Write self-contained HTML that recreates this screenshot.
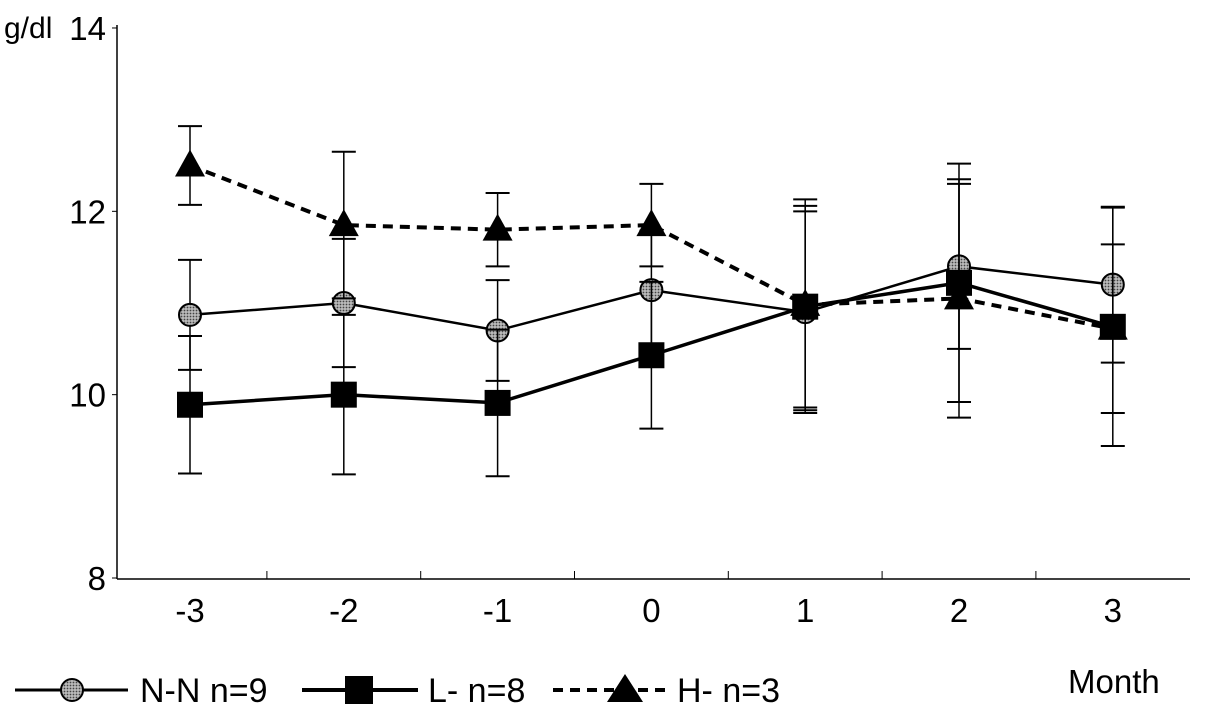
<!DOCTYPE html>
<html><head><meta charset="utf-8"><style>
body{margin:0;background:#fff;}
svg{display:block;font-family:"Liberation Sans",sans-serif;}
</style></head><body>
<svg id="chart" width="1205" height="725">
<defs>
<pattern id="dots" width="3" height="3" patternUnits="userSpaceOnUse"><rect width="3" height="3" fill="#bbb"/><circle cx="1.5" cy="1.5" r="0.9" fill="#444"/></pattern>
</defs>
<g id="axes"></g>
<g id="marks"></g>
<g id="legend">
<line x1="15" y1="690" x2="128" y2="690" stroke="#000" stroke-width="3"/>
<circle cx="72" cy="690" r="11" fill="url(#dots)" stroke="#000" stroke-width="2"/>
<text x="140" y="702" font-size="34">N-N n=9</text>
<line x1="302" y1="690" x2="418" y2="690" stroke="#000" stroke-width="4"/>
<rect x="345" y="676" width="28" height="28" fill="#000"/>
<text x="428" y="702" font-size="34">L- n=8</text>
<line x1="553" y1="690" x2="665" y2="690" stroke="#000" stroke-width="4" stroke-dasharray="10,7"/>
<polygon points="625,674 643,702 607,702" fill="#000"/>
<text x="677" y="702" font-size="34">H- n=3</text>
<text x="1068" y="693" font-size="33">Month</text>
<text x="4" y="38" font-size="30">g/dl</text>
</g>
</svg>
<script>
const months = [-3,-2,-1,0,1,2,3];
const yTicks = [8,10,12,14];
const nnMean = [10.87,11.0,10.7,11.14,10.9,11.4,11.2];
const nnSD = [0.6,0.7,0.55,0.65,1.1,0.9,0.85];
const lMean = [9.89,10.0,9.91,10.43,10.96,11.22,10.74];
const lSD = [0.75,0.87,0.8,0.8,1.1,1.3,1.3];
const hMean = [12.5,11.85,11.8,11.85,10.98,11.05,10.72];
const hSD = [0.43,0.8,0.4,0.45,1.15,1.3,0.92];

const NS="http://www.w3.org/2000/svg";
const X = m => 190 + (m+3)*153.8;
const Y = v => 578 - (v-8)*91.67;
function mk(tag, attrs, parent){const e=document.createElementNS(NS,tag);for(const k in attrs)e.setAttribute(k,attrs[k]);parent.appendChild(e);return e;}
const axes=document.getElementById('axes'), marks=document.getElementById('marks');
let a=mk('line',{x1:117,y1:25,x2:117,y2:579,stroke:'#000','stroke-width':1.5},axes);


a=mk('line',{x1:117,y1:579,x2:1190,y2:579,stroke:'#000','stroke-width':1.5},axes);


yTicks.forEach(v=>{
  mk('line',{x1:112,y1:Y(v),x2:117,y2:Y(v),stroke:'#000'},axes);
  const t=mk('text',{x:106,y:Y(v)+12,'font-size':33,'text-anchor':'end'},axes);t.textContent=v;
  
  
});
months.forEach((m,i)=>{
  const t=mk('text',{x:X(m),y:622,'font-size':33,'text-anchor':'middle'},axes);t.textContent=m;
  
  
  if(i<months.length-1){const tx=(X(m)+X(months[i+1]))/2;mk('line',{x1:tx,y1:571,x2:tx,y2:579,stroke:'#000'},axes);}
});
function series(mean,sd,name,dash,width,marker){
  const g=mk('g',{},marks);
  
  
  months.forEach((m,i)=>{
    const x=X(m),t=Y(mean[i]+sd[i]),b=Y(mean[i]-sd[i]);
    mk('line',{x1:x,y1:t,x2:x,y2:b,stroke:'#000','stroke-width':1.5},g);
    mk('line',{x1:x-12,y1:t,x2:x+12,y2:t,stroke:'#000','stroke-width':2},g);
    mk('line',{x1:x-12,y1:b,x2:x+12,y2:b,stroke:'#000','stroke-width':2},g);
  });
  const p=mk('polyline',{points:months.map((m,i)=>X(m)+','+Y(mean[i])).join(' '),fill:'none',stroke:'#000','stroke-width':width,'stroke-dasharray':dash},g);
  
  
  months.forEach((m,i)=>{
    const x=X(m),y=Y(mean[i]);let e;
    if(marker==='c')e=mk('circle',{cx:x,cy:y,r:11,fill:'url(#dots)',stroke:'#000','stroke-width':2},g);
    else if(marker==='s')e=mk('rect',{x:x-13,y:y-13,width:26,height:26,fill:'#000'},g);
    else e=mk('polygon',{points:`${x},${y-16} ${x+15},${y+11} ${x-15},${y+11}`,fill:'#000'},g);
    
    
  });
}
series(nnMean,nnSD,'series-n-n','none',2.5,'c');
series(hMean,hSD,'series-h','10,7',4,'t');
series(lMean,lSD,'series-l','none',3.5,'s');
</script>
</body></html>
